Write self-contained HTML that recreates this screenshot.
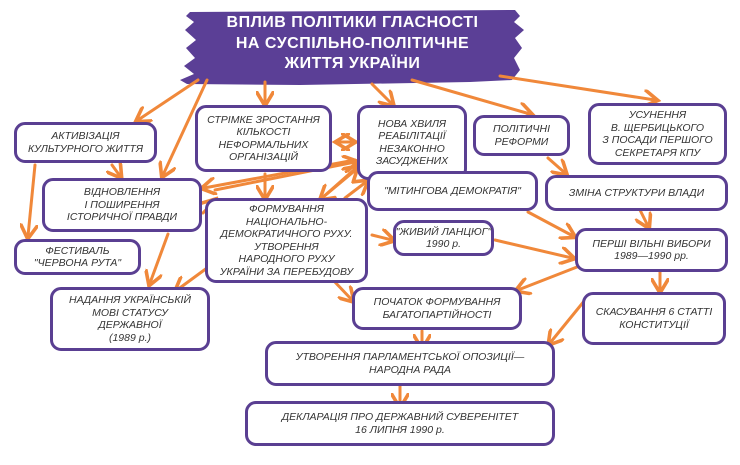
<!DOCTYPE html>
<html><head><meta charset="utf-8"><style>
body{margin:0;width:740px;height:465px;background:#fff;position:relative;overflow:hidden}
.b{position:absolute;box-sizing:border-box;border:3px solid #5a3f92;border-radius:11px;background:#fff;display:flex;align-items:center;justify-content:center;text-align:center;font-family:"Liberation Sans Narrow","Liberation Sans",sans-serif;font-style:italic;font-size:10.5px;line-height:12.5px;color:#333;letter-spacing:0;text-transform:uppercase;white-space:nowrap}
.l{text-transform:none}
svg{position:absolute;left:0;top:0}
.t{position:absolute;left:187px;top:13px;width:331px;text-align:center;font-family:"Liberation Sans Narrow","Liberation Sans",sans-serif;font-weight:bold;font-size:16px;line-height:20.5px;color:#fff;letter-spacing:0.5px}
</style></head><body>
<svg width="740" height="465">
<defs><marker id="a" markerWidth="6" markerHeight="6" refX="4" refY="3" orient="auto" markerUnits="strokeWidth"><path d="M0,0 L5,3 L0,6" fill="none" stroke="#f0883a" stroke-width="1.2"/></marker></defs>
<path d="M190,12 L515,10 L520,16 L514,22 L524,30 L515,38 L522,48 L514,58 L520,70 L512,80 L470,82 L300,85 L187,84 L180,80 L194,74 L184,66 L195,58 L186,48 L196,40 L185,30 L194,22 L186,16 Z" fill="#5b3f96"/>
<g stroke="#f0883a" stroke-width="3" fill="none" marker-end="url(#a)" stroke-linecap="round">
<line x1="198" y1="80" x2="138" y2="120"/>
<line x1="207" y1="80" x2="163" y2="175"/>
<line x1="265" y1="82" x2="265" y2="103"/>
<line x1="372" y1="84" x2="392" y2="104"/>
<line x1="412" y1="80" x2="530" y2="114"/>
<line x1="500" y1="76" x2="655" y2="100"/>
<line x1="35" y1="165" x2="28" y2="236"/>
<line x1="112" y1="165" x2="120" y2="176"/>
<line x1="340" y1="142" x2="353" y2="142"/>
<line x1="352" y1="142" x2="338" y2="142"/>
<line x1="355" y1="160" x2="204" y2="188"/>
<line x1="215" y1="190" x2="355" y2="162"/>
<line x1="265" y1="174" x2="265" y2="197"/>
<line x1="358" y1="168" x2="322" y2="198"/>
<line x1="322" y1="198" x2="356" y2="168"/>
<line x1="203" y1="213" x2="214" y2="201"/>
<line x1="345" y1="198" x2="366" y2="182"/>
<line x1="463" y1="180" x2="478" y2="198"/>
<line x1="548" y1="158" x2="565" y2="173"/>
<line x1="528" y1="212" x2="573" y2="236"/>
<line x1="640" y1="210" x2="648" y2="226"/>
<line x1="372" y1="235" x2="392" y2="240"/>
<line x1="495" y1="240" x2="572" y2="258"/>
<line x1="577" y1="267" x2="518" y2="290"/>
<line x1="660" y1="272" x2="660" y2="290"/>
<line x1="585" y1="300" x2="550" y2="343"/>
<line x1="168" y1="234" x2="150" y2="283"/>
<line x1="207" y1="268" x2="177" y2="290"/>
<line x1="333" y1="280" x2="352" y2="300"/>
<line x1="422" y1="331" x2="422" y2="346"/>
<line x1="400" y1="386" x2="400" y2="405"/>
</g></svg>
<div class="t">ВПЛИВ ПОЛІТИКИ ГЛАСНОСТІ<br>НА СУСПІЛЬНО-ПОЛІТИЧНЕ<br>ЖИТТЯ УКРАЇНИ</div>
<div class="b" style="left:14px;top:122px;width:143px;height:41px"><div>Активізація<br>культурного життя</div></div>
<div class="b" style="left:195px;top:105px;width:137px;height:67px"><div>Стрімке зростання<br>кількості<br>неформальних<br>організацій</div></div>
<div class="b" style="left:357px;top:105px;width:110px;height:75px"><div>Нова хвиля<br>реабілітації<br>незаконно<br>засуджених</div></div>
<div class="b" style="left:473px;top:115px;width:97px;height:41px"><div>Політичні<br>реформи</div></div>
<div class="b" style="left:588px;top:103px;width:139px;height:62px"><div>Усунення<br>В. Щербицького<br>з посади першого<br>секретаря КПУ</div></div>
<div class="b" style="left:42px;top:178px;width:160px;height:54px"><div>Відновлення<br>і поширення<br>історичної правди</div></div>
<div class="b" style="left:367px;top:171px;width:171px;height:40px"><div>"Мітингова демократія"</div></div>
<div class="b" style="left:545px;top:175px;width:183px;height:36px"><div>Зміна структури влади</div></div>
<div class="b" style="left:205px;top:198px;width:163px;height:85px"><div>Формування<br>національно-<br>демократичного руху.<br>Утворення<br>Народного руху<br>України за перебудову</div></div>
<div class="b" style="left:393px;top:220px;width:101px;height:36px"><div>"Живий ланцюг"<br>1990 <span class="l">р.</span></div></div>
<div class="b" style="left:575px;top:228px;width:153px;height:44px"><div>Перші вільні вибори<br>1989—1990 <span class="l">рр.</span></div></div>
<div class="b" style="left:14px;top:239px;width:127px;height:36px"><div>Фестиваль<br>"Червона рута"</div></div>
<div class="b" style="left:50px;top:287px;width:160px;height:64px"><div>Надання українській<br>мові статусу<br>державної<br>(1989 <span class="l">р.</span>)</div></div>
<div class="b" style="left:352px;top:287px;width:170px;height:43px"><div>Початок формування<br>багатопартійності</div></div>
<div class="b" style="left:582px;top:292px;width:144px;height:53px"><div>Скасування 6 статті<br>Конституції</div></div>
<div class="b" style="left:265px;top:341px;width:290px;height:45px"><div>Утворення парламентської опозиції—<br>Народна рада</div></div>
<div class="b" style="left:245px;top:401px;width:310px;height:45px"><div>Декларація про державний суверенітет<br>16 липня 1990 <span class="l">р.</span></div></div>
</body></html>
